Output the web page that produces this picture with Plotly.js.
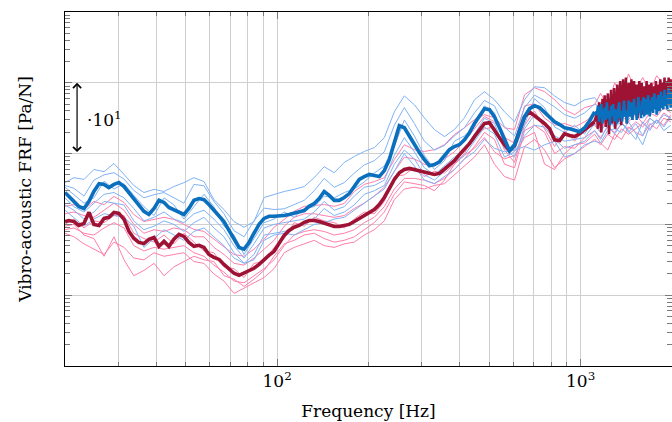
<!DOCTYPE html>
<html>
<head>
<meta charset="utf-8">
<script src="https://cdn.plot.ly/plotly-3.0.1.min.js"></script>
<style>
  html, body { margin: 0; padding: 0; background: #fff; }
  #chart { width: 672px; height: 422px; }
</style>
</head>
<body>
<div id="chart"></div>
<script>
// Frequency grid of the smoothed part of the mean spectra [Hz]
const freqMean = [20.0, 20.6, 21.4, 22.2, 23.1, 24.0, 24.9, 25.9, 26.9, 27.9,
  29.0, 30.1, 31.3, 32.5, 33.7, 35.0, 36.4, 37.8, 39.3, 40.8,
  42.4, 44.0, 45.7, 47.5, 49.3, 51.2, 53.2, 55.3, 57.4, 59.6,
  61.9, 64.4, 66.8, 69.4, 72.1, 74.9, 77.8, 80.8, 83.9, 87.2,
  90.6, 94.1, 97.7, 101.5, 105.5, 109.5, 113.8, 118.2, 122.8, 127.5,
  132.5, 137.6, 142.9, 148.5, 154.2, 160.2, 166.4, 172.9, 179.6, 186.5,
  193.7, 201.2, 209.0, 217.1, 225.5, 234.2, 243.3, 252.7, 262.5, 272.7,
  283.2, 294.2, 305.6, 317.4, 329.7, 342.5, 355.8, 369.5, 383.8, 398.7,
  414.1, 430.2, 446.8, 464.2, 482.1, 500.8, 520.2, 540.4, 561.3, 583.0,
  605.6, 629.0, 653.4, 678.7, 705.0, 732.3, 760.7, 790.2, 820.8, 852.6,
  885.6, 919.9, 955.5, 992.5, 1031, 1071, 1112];

// Narrow-band part, 10 Hz resolution [Hz]
const freqDense = [1130, 1140, 1150, 1160, 1170, 1180, 1190, 1200, 1210, 1220,
  1230, 1240, 1250, 1260, 1270, 1280, 1290, 1300, 1310, 1320,
  1330, 1340, 1350, 1360, 1370, 1380, 1390, 1400, 1410, 1420,
  1430, 1440, 1450, 1460, 1470, 1480, 1490, 1500, 1510, 1520,
  1530, 1540, 1550, 1560, 1570, 1580, 1590, 1600, 1610, 1620,
  1630, 1640, 1650, 1660, 1670, 1680, 1690, 1700, 1710, 1720,
  1730, 1740, 1750, 1760, 1770, 1780, 1790, 1800, 1810, 1820,
  1830, 1840, 1850, 1860, 1870, 1880, 1890, 1900, 1910, 1920,
  1930, 1940, 1950, 1960, 1970, 1980, 1990, 2000];

// Frequency grid of the single measurements [Hz]
const freqSample = [20.0, 21.4, 23.1, 24.9, 26.9, 29.0, 31.3, 33.7, 36.4, 39.3,
  42.4, 45.7, 49.3, 53.2, 57.4, 61.9, 66.8, 72.1, 77.8, 83.9,
  90.6, 97.7, 105.5, 113.8, 122.8, 132.5, 142.9, 154.2, 166.4, 179.6,
  193.7, 209.0, 225.5, 243.3, 262.5, 283.2, 305.6, 329.7, 355.8, 383.8,
  414.1, 446.8, 482.1, 520.2, 561.3, 605.6, 653.4, 705.0, 760.7, 820.8,
  885.6, 955.5, 1031, 1112,
  1163, 1228, 1294, 1364, 1438, 1519, 1602, 1689, 1781, 1879, 1982];

// Mean FRF levels [dB re 1 Pa/N]
const meanBlueDb = [9.0, 7.9, 6.8, 5.1, 4.5, 6.5, 9.3, 11.5, 11.3, 10.4,
  11.3, 11.8, 10.7, 9.0, 7.0, 5.4, 3.7, 2.8, 4.5, 6.8,
  6.2, 4.8, 4.2, 3.4, 2.8, 4.5, 6.8, 7.3, 7.0, 5.6,
  3.9, 2.5, 0.8, -1.7, -4.2, -6.5, -7.0, -5.1, -2.5, 0.0,
  1.7, 2.3, 2.3, 2.3, 2.5, 2.8, 3.1, 3.4, 3.9, 5.1,
  5.9, 7.3, 9.3, 8.2, 6.8, 6.8, 7.6, 8.7, 10.7, 12.7,
  13.5, 14.1, 13.8, 13.5, 15.2, 18.3, 23.1, 27.9, 27.3, 24.8,
  22.5, 20.3, 18.3, 16.6, 16.9, 17.7, 19.4, 21.1, 22.0, 22.5,
  23.9, 25.9, 28.5, 30.7, 32.7, 32.4, 30.4, 27.3, 23.9, 20.8,
  22.5, 26.8, 30.4, 32.7, 33.5, 33.0, 31.6, 30.1, 29.0, 28.2,
  27.3, 27.0, 26.5, 26.2, 27.3, 29.3, 31.8];
const meanBlueDenseDb = [31.0, 33.5, 29.0, 32.5, 34.0, 28.5, 31.5, 33.0, 29.5, 34.5,
  30.0, 32.0, 28.0, 33.5, 30.5, 34.0, 29.0, 32.5, 31.0, 28.5,
  33.0, 34.5, 30.0, 32.0, 29.0, 33.5, 35.0, 30.5, 32.0, 28.5,
  33.5, 35.0, 30.5, 31.5, 34.5, 29.5, 32.5, 35.5, 31.0, 33.0,
  29.5, 34.0, 36.0, 31.5, 33.5, 30.0, 35.0, 32.5, 36.0, 30.5,
  33.0, 35.5, 31.0, 34.0, 36.5, 32.0, 30.5, 35.0, 33.5, 36.0,
  31.5, 34.0, 37.0, 32.5, 35.5, 31.0, 33.5, 36.5, 34.0, 32.0,
  35.5, 37.5, 33.0, 36.0, 32.5, 34.5, 38.0, 33.5, 36.5, 35.0,
  32.5, 37.0, 38.5, 34.0, 36.0, 33.0, 37.5, 35.5];

const meanRedDb = [0.8, 1.1, 0.8, -0.3, 0.3, 3.4, 0.0, -0.3, 1.7, 2.0,
  3.4, 3.1, 1.4, -2.0, -3.9, -5.1, -5.4, -4.2, -3.7, -6.2,
  -4.8, -6.2, -4.2, -2.8, -3.4, -5.1, -6.2, -5.9, -6.5, -8.5,
  -9.3, -9.9, -11.3, -12.7, -13.8, -14.4, -13.8, -13.2, -12.4, -11.3,
  -9.9, -8.7, -7.6, -5.4, -3.1, -1.7, -0.8, -0.3, 0.6, 1.1,
  1.1, 0.8, 0.3, -0.3, -0.6, -0.6, -0.3, 0.0, 0.8, 1.7,
  2.5, 3.4, 4.2, 5.6, 7.6, 10.1, 12.7, 14.6, 15.5, 15.8,
  15.5, 15.2, 14.9, 14.6, 14.1, 14.4, 15.5, 16.6, 18.0, 19.7,
  21.1, 22.8, 24.8, 26.8, 28.5, 28.7, 26.8, 24.5, 22.5, 20.8,
  22.3, 26.2, 30.4, 31.8, 30.7, 29.9, 28.5, 27.0, 23.9, 23.7,
  25.6, 25.1, 24.8, 25.6, 26.8, 27.9, 29.0];
const meanRedDenseDb = [31.5, 27.0, 34.5, 29.5, 26.0, 35.5, 30.0, 36.5, 27.5, 33.0,
  37.0, 25.5, 31.5, 38.0, 28.5, 35.0, 38.5, 27.0, 33.5, 39.5,
  29.0, 36.5, 40.5, 28.0, 34.0, 41.0, 30.5, 37.5, 41.5, 28.5,
  35.0, 40.0, 31.0, 38.5, 41.0, 29.5, 36.0, 40.5, 32.0, 37.0,
  39.5, 30.0, 35.5, 40.5, 33.0, 38.0, 40.0, 31.0, 36.5, 39.0,
  32.5, 37.5, 40.5, 31.5, 35.0, 39.5, 33.5, 38.0, 40.0, 32.0,
  36.5, 39.0, 33.0, 37.5, 40.5, 32.5, 35.5, 39.5, 34.0, 38.5,
  41.0, 33.0, 36.5, 40.0, 34.5, 38.0, 41.5, 33.5, 37.0, 40.5,
  35.0, 39.0, 41.5, 34.0, 37.5, 41.0, 35.5, 40.0];

// Single measurements, configuration A [dB re 1 Pa/N]
const blueRun1 = [11.8, 13.2, 12.7, 15.5, 14.9, 17.2, 14.1, 11.0, 9.0, 9.9,
  9.3, 10.7, 11.8, 13.2, 12.1, 7.0, 4.2, 0.8, -0.8, 0.8,
  7.6, 8.5, 9.3, 9.9, 10.7, 13.2, 16.3, 14.6, 17.5, 19.2,
  20.6, 21.7, 24.5, 31.8, 36.3, 33.8, 30.1, 26.8, 24.8, 26.8,
  30.1, 35.2, 37.5, 35.2, 31.8, 29.0, 35.2, 38.9, 38.6, 36.3,
  34.4, 33.5, 35.2, 35.8,
  33.8, 36.6, 31.8, 35.2, 33.0, 36.3, 32.4, 37.5, 34.1, 38.0, 35.2];
const blueRun2 = [11.0, 10.2, 8.0, 12.5, 14.0, 14.6, 12.8, 9.6, 7.5, 8.4,
  9.0, 7.6, 6.0, 11.3, 10.9, 6.5, 3.0, -1.8, -3.5, 1.0,
  4.6, 4.2, 4.4, 5.6, 6.8, 9.5, 13.0, 10.5, 11.8, 14.5,
  16.8, 18.0, 20.5, 28.0, 33.0, 28.5, 23.5, 21.0, 22.3, 25.0,
  27.3, 31.5, 35.0, 33.5, 27.5, 25.0, 33.0, 36.5, 35.0, 33.2,
  31.0, 30.0, 31.5, 34.0,
  33.0, 30.5, 34.5, 31.5, 35.0, 30.8, 34.0, 31.0, 35.5, 32.5, 36.5];
const blueRun3 = [10.5, 8.5, 6.0, 7.5, 12.2, 10.0, 11.5, 8.2, 5.0, 2.5,
  7.5, 5.5, 1.5, 5.0, 8.5, 5.0, -0.5, -3.0, -8.5, -4.0,
  0.5, 1.5, 3.5, 2.0, 4.5, 5.0, 8.0, 7.5, 9.0, 10.0,
  12.0, 14.5, 16.5, 22.0, 29.5, 25.0, 19.5, 15.5, 18.0, 23.5,
  25.0, 27.5, 33.5, 31.5, 22.5, 21.0, 28.5, 35.5, 33.0, 27.5,
  26.0, 28.0, 25.5, 30.0,
  28.5, 32.0, 27.0, 31.5, 29.5, 32.5, 30.0, 33.5, 31.0, 34.0, 32.0];
const blueRun4 = [7.5, 5.0, 3.5, 6.0, 8.5, 9.0, 7.5, 4.5, 1.0, 2.0,
  3.5, 1.5, 0.5, 3.0, 4.0, 1.5, -1.5, -6.0, -9.5, -5.5,
  -1.0, 0.0, 0.5, 1.0, 1.5, 3.5, 6.5, 4.0, 5.0, 8.0,
  10.5, 11.0, 12.5, 19.5, 24.5, 20.5, 16.0, 14.0, 16.5, 19.0,
  21.0, 25.5, 30.0, 28.5, 21.5, 19.0, 27.0, 31.0, 29.0, 25.0,
  23.5, 24.0, 24.5, 28.5,
  26.0, 29.5, 27.5, 29.0, 26.0, 28.5, 25.0, 30.0, 28.5, 31.0, 30.0];
const blueRun5 = [5.5, 4.0, 1.5, 3.5, 6.5, 6.0, 5.5, 1.0, -1.5, -0.5,
  1.0, 0.0, -2.0, 0.5, 2.0, -1.0, -3.5, -8.0, -11.0, -8.5,
  -3.0, -2.5, -2.0, -1.0, 0.0, 1.5, 4.5, 2.5, 3.5, 5.5,
  8.5, 9.5, 11.0, 17.0, 21.0, 18.5, 14.0, 12.5, 15.0, 17.5,
  19.5, 23.5, 27.5, 25.5, 19.0, 20.5, 25.0, 28.0, 27.5, 24.0,
  21.5, 22.5, 23.5, 26.5,
  24.0, 28.0, 25.5, 28.5, 26.5, 24.0, 29.0, 26.5, 29.5, 27.5, 30.5];
const blueRun6 = [4.0, 2.0, -0.5, 1.5, 3.0, 2.5, 2.0, -0.5, -6.5, -4.0,
  -1.5, -3.0, -4.5, -2.0, -1.0, -3.5, -6.0, -9.5, -11.0, -10.0,
  -4.5, -3.0, -2.5, -3.0, -1.5, 0.0, 0.5, 1.5, 2.0, 4.0,
  6.0, 8.0, 10.0, 15.0, 20.0, 16.5, 12.5, 11.5, 13.5, 15.5,
  18.5, 20.5, 24.0, 21.5, 20.5, 21.0, 22.0, 21.0, 22.5, 23.5,
  19.0, 20.0, 22.5, 23.5,
  23.0, 26.5, 27.0, 26.0, 29.0, 25.5, 22.5, 28.0, 29.5, 26.5, 28.0];

// Single measurements, configuration B [dB re 1 Pa/N]
const redRun1 = [5.1, 5.6, 4.2, 6.5, 5.6, 7.9, 6.2, 2.8, 0.8, 1.4,
  2.0, 1.4, 0.0, -1.4, -2.0, -4.2, -6.5, -8.5, -9.0, -7.0,
  -4.2, -0.8, 1.4, 3.7, 5.1, 5.4, 5.6, 5.1, 5.9, 9.3,
  11.3, 12.1, 13.2, 18.3, 22.5, 21.1, 20.6, 21.1, 22.5, 25.4,
  27.3, 29.6, 31.0, 30.1, 27.3, 26.8, 36.6, 38.6, 37.5, 35.2,
  32.4, 31.0, 33.0, 33.8,
  37.0, 33.5, 40.0, 36.5, 42.5, 38.0, 41.5, 37.5, 42.0, 39.5, 41.0];
const redRun2 = [3.0, 3.5, 2.5, 2.0, 4.0, 6.0, 4.0, 0.0, -2.5, -1.5,
  -2.0, -1.0, -1.5, -3.5, -3.5, -6.5, -8.5, -11.0, -11.5, -9.5,
  -7.0, -4.5, -0.5, 2.0, 3.0, 3.0, 2.5, 2.0, 2.5, 4.5,
  6.0, 8.0, 10.5, 15.0, 19.0, 18.5, 17.0, 16.5, 18.5, 20.5,
  23.5, 27.0, 30.5, 29.0, 24.5, 23.0, 33.5, 34.0, 30.0, 28.0,
  28.5, 27.5, 29.0, 31.0,
  34.5, 30.0, 36.0, 31.0, 37.5, 32.5, 38.0, 33.0, 37.0, 34.5, 38.5];
const redRun3 = [0.0, 1.5, -1.0, 1.0, 0.5, 2.5, 2.5, -2.5, -4.0, -5.0,
  -3.0, -5.5, -2.5, -5.0, -7.5, -8.0, -12.0, -12.5, -15.0, -11.0,
  -10.5, -6.5, -4.0, 0.5, -0.5, 2.0, 1.0, 0.5, -1.0, 1.5,
  3.5, 3.0, 6.5, 13.5, 14.0, 16.0, 13.5, 15.0, 14.5, 17.0,
  20.0, 25.5, 27.0, 27.5, 21.0, 17.5, 28.0, 32.0, 27.0, 22.0,
  26.5, 23.5, 27.5, 28.0,
  26.0, 31.5, 28.0, 30.5, 29.0, 31.0, 28.5, 31.5, 30.5, 33.0, 31.5];
const redRun4 = [-1.5, -1.0, -2.5, -3.0, -1.0, 0.5, -1.0, -6.0, -7.5, -6.5,
  -7.0, -6.5, -6.0, -8.0, -9.0, -11.5, -13.5, -16.0, -16.5, -14.5,
  -12.5, -10.0, -6.0, -3.0, -2.0, -1.5, -2.0, -3.0, -2.5, -1.5,
  0.5, 2.0, 5.0, 10.0, 13.0, 13.0, 12.5, 11.5, 13.0, 15.5,
  18.5, 22.0, 26.0, 24.0, 17.0, 16.0, 26.5, 28.0, 26.0, 20.0,
  22.0, 21.5, 24.5, 26.5,
  24.5, 27.5, 26.0, 28.5, 27.0, 29.0, 27.5, 30.0, 28.5, 31.5, 30.0];
const redRun5 = [-2.5, -3.5, -5.5, -7.0, -8.5, -5.0, -6.5, -9.5, -10.0, -8.0,
  -9.0, -8.5, -8.0, -10.5, -11.0, -14.0, -16.0, -19.5, -18.0, -16.5,
  -15.0, -12.5, -8.0, -6.5, -5.5, -4.5, -6.0, -6.5, -5.5, -5.0,
  -3.0, -1.5, 1.0, 7.0, 10.0, 10.5, 10.0, 11.0, 11.5, 14.0,
  16.5, 19.0, 22.5, 17.0, 13.5, 12.5, 22.0, 24.0, 21.0, 16.0,
  18.5, 20.0, 22.0, 24.0,
  22.5, 25.5, 24.0, 27.0, 25.5, 27.0, 28.5, 27.0, 29.5, 28.0, 31.0];
const redRun6 = [-0.5, 0.0, -3.0, -4.0, -9.0, -3.5, -10.0, -14.5, -13.0, -11.0,
  -14.5, -12.0, -10.5, -9.0, -10.0, -10.5, -14.5, -15.5, -17.5, -15.5,
  -13.0, -9.0, -5.5, -4.5, -3.0, -2.5, -4.0, -5.0, -4.5, -3.5,
  -1.5, 0.5, 3.5, 8.5, 12.0, 11.5, 11.0, 9.5, 12.5, 17.0,
  19.5, 21.5, 24.5, 20.5, 18.5, 19.5, 24.5, 26.0, 17.0, 15.5,
  20.0, 22.5, 23.0, 25.5,
  23.0, 21.0, 25.5, 24.0, 27.5, 26.0, 25.0, 28.5, 27.0, 30.0, 29.0];

// Axis ticks
const xMajorTicks = [100, 1000];
const xMajorLabels = ['10<sup>2</sup>', '10<sup>3</sup>'];
const xMinorTicks = [20, 30, 40, 50, 60, 70, 80, 90, 200, 300, 400, 500, 600, 700, 800, 900, 2000];
const yMajorTicks = [0.01, 0.1, 1, 10, 100, 1000];
const yMinorTicks = [];
[0.01, 0.1, 1, 10, 100].forEach(d => { for (let k = 2; k <= 9; k++) yMinorTicks.push(+(d * k).toPrecision(3)); });

const toPaPerN = db => db.map(v => Math.pow(10, v / 20));

const colors = {
  lightBlue: '#80b3f6',
  pink: '#ff7eab',
  blue: '#0a6fbd',
  red: '#9e1233'
};

function thin(y, color) {
  return { x: freqSample, y: toPaPerN(y), type: 'scatter', mode: 'lines',
           line: { color: color, width: 1 }, hoverinfo: 'skip' };
}
// smoothed part drawn thick, narrow-band part thinner so it reads as a dense band
function meanParts(smoothDb, denseDb, color) {
  const last = freqMean.length - 1;
  return [
    { x: freqMean, y: toPaPerN(smoothDb), type: 'scatter', mode: 'lines',
      line: { color: color, width: 3.6 } },
    { x: [freqMean[last]].concat(freqDense), y: toPaPerN([smoothDb[last]].concat(denseDb)),
      type: 'scatter', mode: 'lines', line: { color: color, width: 2.5 } }
  ];
}

const traces = [
  ...[redRun1, redRun2, redRun3, redRun4, redRun5, redRun6].map(r => thin(r, colors.pink)),
  ...[blueRun1, blueRun2, blueRun3, blueRun4, blueRun5, blueRun6].map(r => thin(r, colors.lightBlue)),
  ...meanParts(meanRedDb, meanRedDenseDb, colors.red),
  ...meanParts(meanBlueDb, meanBlueDenseDb, colors.blue)
];

const gridColor = '#cfcfcf';
const tickColor = '#7a7a7a';

const layout = {
  width: 672, height: 422,
  margin: { l: 65, r: 0, t: 12, b: 56 },
  paper_bgcolor: '#ffffff', plot_bgcolor: '#ffffff',
  font: { family: 'DejaVu Serif, serif', size: 17, color: '#000' },
  showlegend: false,
  xaxis: {
    type: 'log', range: [Math.log10(20), Math.log10(2000)],
    tickmode: 'array', tickvals: xMajorTicks, ticktext: xMajorLabels,
    ticks: 'inside', ticklen: 7, tickwidth: 1, tickcolor: tickColor,
    showgrid: true, gridcolor: gridColor, gridwidth: 1,
    showline: true, linecolor: '#000', linewidth: 1, mirror: 'allticks',
    zeroline: false,
    minor: { tickmode: 'array', tickvals: xMinorTicks, ticks: 'inside', ticklen: 4,
             tickcolor: tickColor, showgrid: true, gridcolor: gridColor, gridwidth: 1 },
    title: { text: 'Frequency [Hz]', standoff: 14, font: { size: 17 } }
  },
  yaxis: {
    type: 'log', range: [-2, 3],
    tickmode: 'array', tickvals: yMajorTicks, showticklabels: false,
    ticks: 'inside', ticklen: 7, tickwidth: 1, tickcolor: tickColor,
    showgrid: true, gridcolor: gridColor, gridwidth: 1,
    showline: true, linecolor: '#000', linewidth: 1, mirror: 'allticks',
    zeroline: false,
    minor: { tickmode: 'array', tickvals: yMinorTicks, ticks: 'inside', ticklen: 5,
             tickcolor: tickColor, showgrid: false },
    title: { text: 'Vibro-acoustic FRF [Pa/N]', standoff: 28, font: { size: 17 } }
  },
  annotations: [
    // one-decade scale bar
    { xref: 'x', yref: 'y', axref: 'x', ayref: 'y',
      x: 1.3408, y: 2, ax: 1.3408, ay: 1, text: '',
      showarrow: true, arrowside: 'end+start', arrowhead: 4, arrowsize: 1.3,
      arrowwidth: 1.2, arrowcolor: '#000' },
    { xref: 'x', yref: 'y', x: 1.368, y: 1.49, xanchor: 'left', yanchor: 'middle',
      text: '·10<sup>1</sup>', showarrow: false, font: { size: 17, color: '#000' } }
  ]
};

Plotly.newPlot('chart', traces, layout, { displayModeBar: false, staticPlot: true });
</script>
</body>
</html>
